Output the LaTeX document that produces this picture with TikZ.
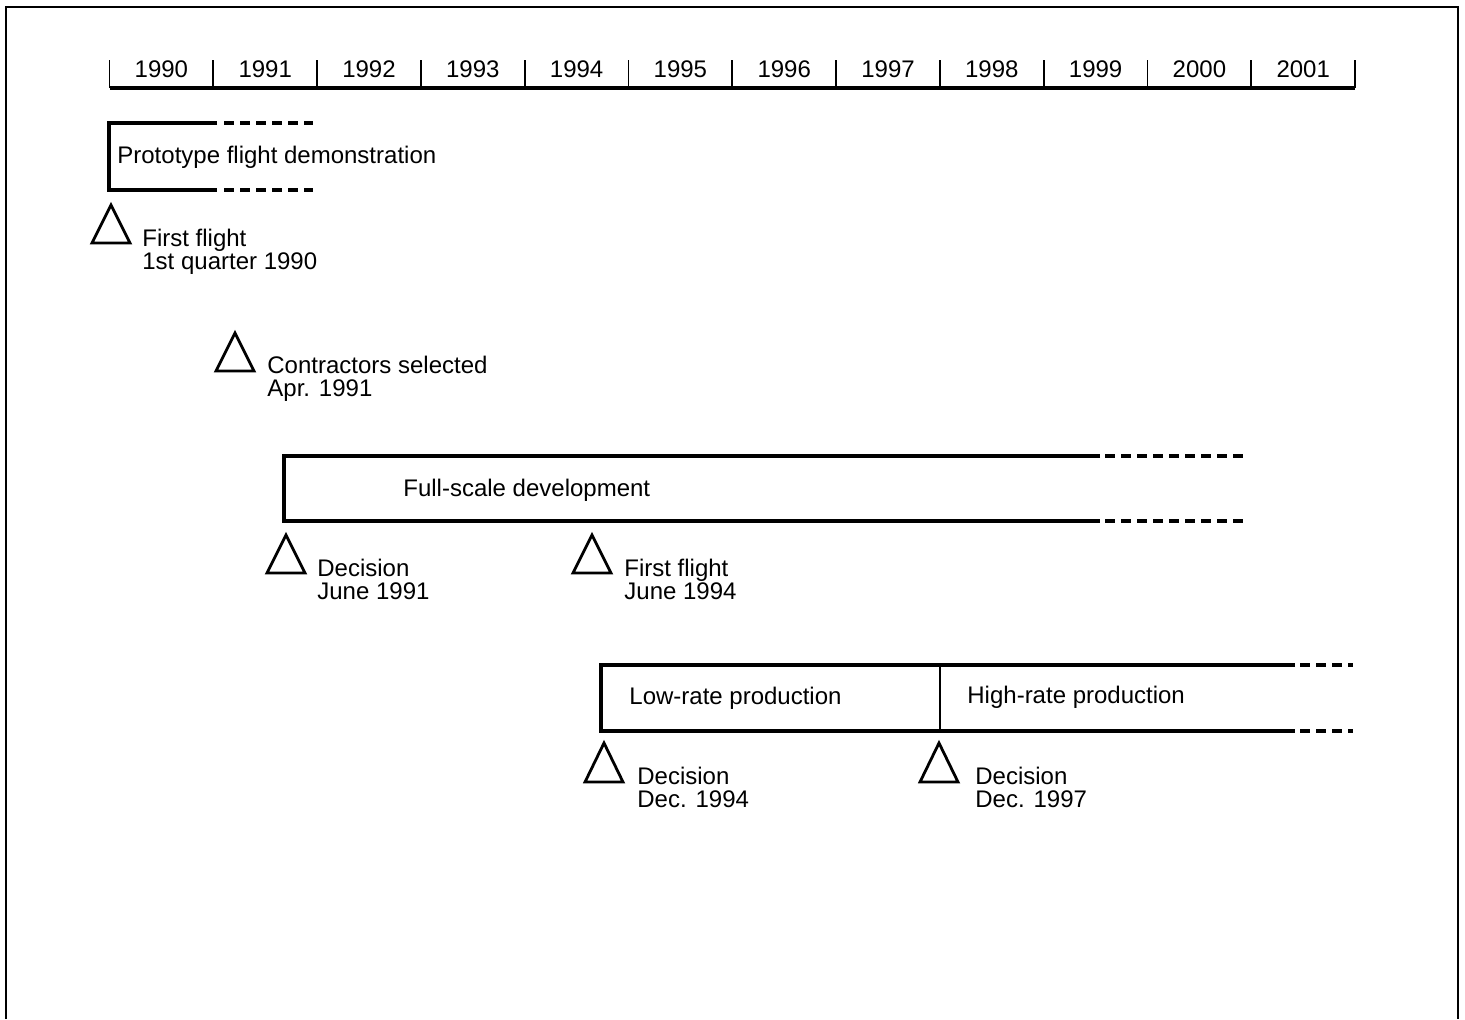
\documentclass[tikz,border=0pt]{standalone}
\usepackage{fontspec}
\setmainfont{Liberation Sans}
\usetikzlibrary{calc}
\tikzset{
 frame/.style={line width=1pt},
 axis/.style={line width=1.6pt},
 yeartick/.style={line width=.9pt},
 phase/.style={line width=1.8pt},
 phasedash/.style={line width=1.8pt,dash pattern=on 5pt off 3pt},
 divider/.style={line width=.8pt},
 milestone/.style={line width=1.4pt,line join=miter},
 year/.style={anchor=base,font=\fontsize{12}{12}\selectfont,inner sep=0},
 phaselabel/.style={anchor=base west,font=\fontsize{12}{12}\selectfont,inner sep=0},
 mslabel/.style={anchor=north west,align=left,font=\fontsize{12}{11.5}\selectfont,inner sep=0}
}
\begin{document}
\begin{tikzpicture}[x=.5pt,y=-.5pt]
\path[use as bounding box] (0,0) rectangle (1465,1019);
\draw[frame] (6,1019) -- (6,7) -- (1458,7) -- (1458,1019);
% year scale
\coordinate (T0) at (109.5,88);
\foreach \i in {1,...,12} \coordinate (T\i) at ($(T0)+(103.8*\i,0)$);
\draw[axis] (T0) -- (T12);
\foreach \i in {0,...,12} \draw[yeartick] (T\i) -- ++(0,-28);
\foreach \y [count=\i from 0] in {1990,...,2001} \node[year] (y\y) at ($(T\i)+(51.9,-11)$) {\y};
% prototype
\draw[phase] (217,123) -- (109,123) -- (109,190) -- (217,190);
\draw[phasedash] (224,123) -- (313,123) (224,190) -- (313,190);
\node[phaselabel] (proto) at (117,163) {Prototype flight demonstration};
\coordinate (ff90) at (111,205);
\draw[milestone] (ff90) -- ++(19,38) -- ++(-38,0) -- cycle;
\node[mslabel] (ff90l) at ($(ff90)+(31,24)$) {First flight\\1st quarter 1990};
\coordinate (cs91) at (235,333);
\draw[milestone] (cs91) -- ++(19,38) -- ++(-38,0) -- cycle;
\node[mslabel] (cs91l) at ($(cs91)+(32,23)$) {Contractors selected\\Apr. 1991};
% full-scale development
\draw[phase] (1100,456) -- (284,456) -- (284,521) -- (1100,521);
\draw[phasedash] (1105,456) -- (1243,456) (1105,521) -- (1243,521);
\node[phaselabel] (fsd) at (403,496) {Full-scale development};
\coordinate (d91) at (286,535);
\draw[milestone] (d91) -- ++(19,38) -- ++(-38,0) -- cycle;
\node[mslabel] (d91l) at ($(d91)+(31,24)$) {Decision\\June 1991};
\coordinate (ff94) at (592,535);
\draw[milestone] (ff94) -- ++(19,38) -- ++(-38,0) -- cycle;
\node[mslabel] (ff94l) at ($(ff94)+(32,24)$) {First flight\\June 1994};
% production
\draw[phase] (1295,665) -- (601,665) -- (601,731) -- (1295,731);
\draw[divider] (940,665) -- (940,731);
\draw[phasedash] (1300,665) -- (1353,665) (1300,731) -- (1353,731);
\node[phaselabel] (lrp) at (629,704) {Low-rate production};
\node[phaselabel] (hrp) at (967,703) {High-rate production};
\coordinate (d94) at (604,743);
\draw[milestone] (d94) -- ++(19,39) -- ++(-38,0) -- cycle;
\node[mslabel] (d94l) at ($(d94)+(33,24)$) {Decision\\Dec. 1994};
\coordinate (d97) at (939,743);
\draw[milestone] (d97) -- ++(19,39) -- ++(-38,0) -- cycle;
\node[mslabel] (d97l) at ($(d97)+(36,24)$) {Decision\\Dec. 1997};
\end{tikzpicture}
\end{document}
